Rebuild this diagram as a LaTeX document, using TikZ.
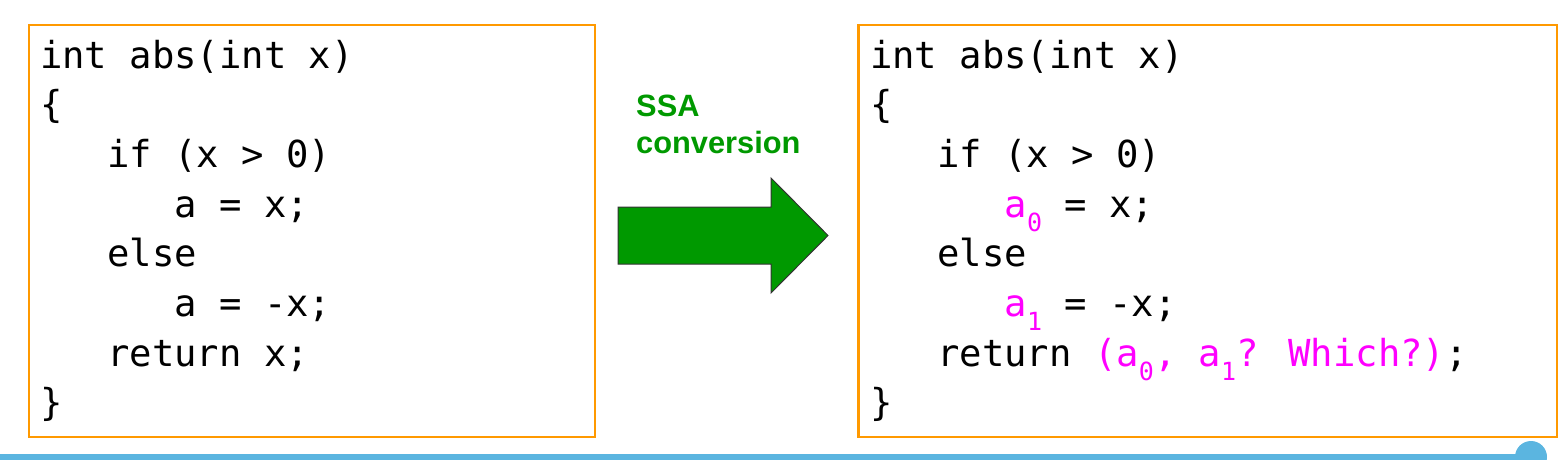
\documentclass[tikz,border=0pt]{standalone}
\usepackage{fontspec}
\setmainfont{Liberation Sans}
\newfontfamily\codefont{DejaVu Sans Mono}
\definecolor{boxorange}{HTML}{FF9900}
\definecolor{ssagreen}{HTML}{009900}
\definecolor{barblue}{HTML}{5BB5E0}
\definecolor{ssapink}{HTML}{FF00FF}
\newcommand{\ssasub}[1]{\raisebox{-14pt}{\fontsize{25}{25}\selectfont #1}}
\newcommand{\pk}[1]{\textcolor{ssapink}{#1}}

\begin{document}
\begin{tikzpicture}[x=1pt, y=-1pt,
    code/.style={anchor=base west, inner sep=0pt, font=\codefont\fontsize{37.2}{50}\selectfont},
    codebox/.style={draw=boxorange, line width=2.5pt},
    ssatext/.style={anchor=base west, inner sep=0pt, text=ssagreen, font=\bfseries\fontsize{30.8}{36}\selectfont}]
    \useasboundingbox (0, 0) rectangle (1566, 459);
    \clip (0, 0) rectangle (1566, 459);
    % boxes
    \draw[codebox] (29, 25) rectangle (595, 437);
    \draw[codebox] (858.5, 25) rectangle (1557, 437);
    % original code
    \node[code] (l1) at (40, 68){int abs(int x)};
    \node[code] (l2) at (40, 117.7){\{};
    \node[code] (l3) at (107.2, 167.4){if (x > 0)};
    \node[code] (l4) at (174.4, 217.1){a = x;};
    \node[code] (l5) at (107.2, 266.8){else};
    \node[code] (l6) at (174.4, 316.5){a = -x;};
    \node[code] (l7) at (107.2, 366.2){return x;};
    \node[code] (l8) at (40, 415.9){\}};
    % SSA code
    \node[code] (r1) at (870, 68){int abs(int x)};
    \node[code] (r2) at (870, 117.7){\{};
    \node[code] (r3) at (937.2, 167.4){if (x > 0)};
    \node[code] (r4) at (1004.4, 217.1){\pk{a\ssasub{0}} = x;};
    \node[code] (r5) at (937.2, 266.8){else};
    \node[code] (r6) at (1004.4, 316.5){\pk{a\ssasub{1}} = -x;};
    \node[code] (r7) at (937.2, 366.2){return \pk{(a\ssasub{0}, a\ssasub{1}? Which?)};};
    \node[code] (r8) at (870, 415.9){\}};
    % arrow
    \node[ssatext] (ssa) at (636, 116){SSA};
    \node[ssatext] (conv) at (636, 153){conversion};
    \draw[fill=ssagreen, draw=black!80, line width=1pt]
        (618, 207) -- (771, 207) -- (771, 178) -- (828, 235.5) -- (771, 293)
        -- (771, 264) -- (618, 264) -- cycle;
    % bottom bar
    \fill[barblue] (0, 454) rectangle (1531, 462);
    \fill[barblue] (1531, 457) circle (16);
\end{tikzpicture}
\end{document}
